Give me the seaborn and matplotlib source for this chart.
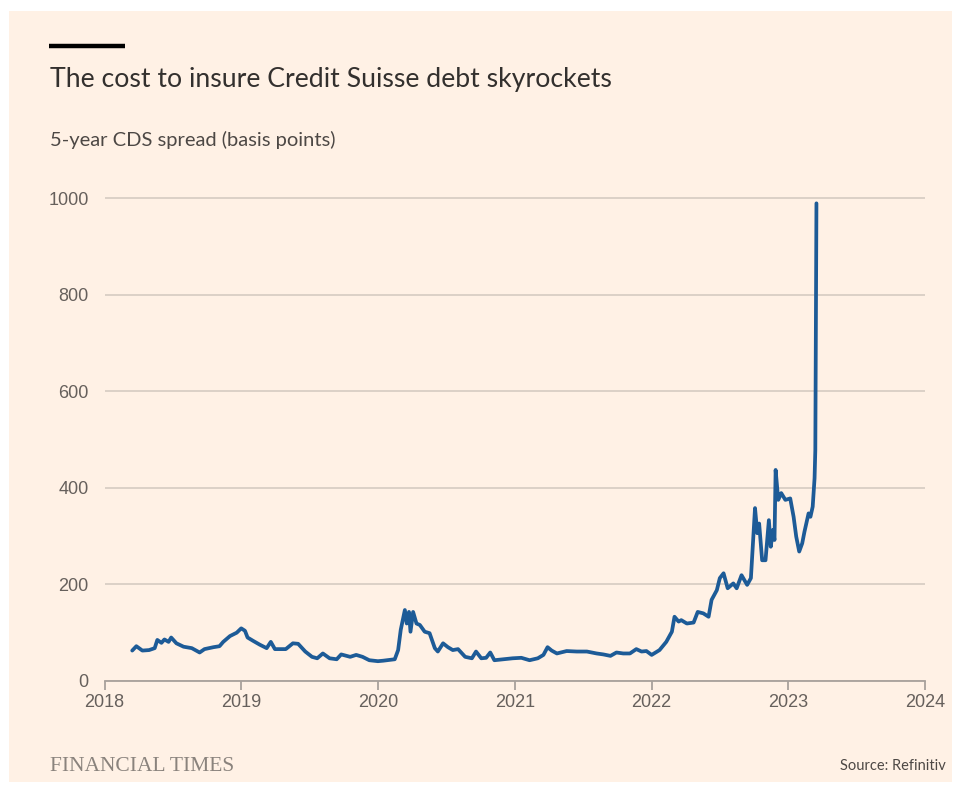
import matplotlib
matplotlib.use("Agg")
import matplotlib.pyplot as plt
import matplotlib.patches as mpatches
import pandas as pd
import seaborn as sns

# ---- data ----
dates = [
    "2018-03-16", "2018-03-27", "2018-04-12", "2018-04-30", "2018-05-15", "2018-05-22",
    "2018-06-02", "2018-06-10", "2018-06-21", "2018-06-28", "2018-07-12", "2018-07-31",
    "2018-08-22", "2018-09-12", "2018-09-25", "2018-10-19", "2018-11-04", "2018-11-14",
    "2018-12-02", "2018-12-20", "2019-01-01", "2019-01-11", "2019-01-18", "2019-02-02",
    "2019-02-20", "2019-03-10", "2019-03-21", "2019-04-01", "2019-04-12", "2019-04-30",
    "2019-05-19", "2019-06-02", "2019-06-21", "2019-07-09", "2019-07-23", "2019-08-07",
    "2019-08-25", "2019-09-13", "2019-09-25", "2019-10-19", "2019-11-04", "2019-11-21",
    "2019-12-09", "2020-01-01", "2020-01-15", "2020-02-15", "2020-02-24", "2020-03-02",
    "2020-03-13", "2020-03-18", "2020-03-24", "2020-03-28", "2020-04-04", "2020-04-13",
    "2020-04-22", "2020-05-05", "2020-05-18", "2020-06-01", "2020-06-09", "2020-06-23",
    "2020-07-06", "2020-07-19", "2020-08-02", "2020-08-21", "2020-09-08", "2020-09-19",
    "2020-10-03", "2020-10-16", "2020-10-27", "2020-11-07", "2020-12-01", "2020-12-26",
    "2021-01-18", "2021-02-09", "2021-03-03", "2021-03-18", "2021-03-29", "2021-04-09",
    "2021-04-23", "2021-05-19", "2021-06-15", "2021-07-12", "2021-08-07", "2021-08-25",
    "2021-09-13", "2021-09-29", "2021-10-17", "2021-11-04", "2021-11-21", "2021-12-05",
    "2021-12-18", "2022-01-01", "2022-01-22", "2022-02-09", "2022-02-24", "2022-03-03",
    "2022-03-14", "2022-03-21", "2022-04-05", "2022-04-23", "2022-05-04", "2022-05-19",
    "2022-06-02", "2022-06-10", "2022-06-24", "2022-07-02", "2022-07-12", "2022-07-23",
    "2022-08-07", "2022-08-16", "2022-08-29", "2022-09-13", "2022-09-23", "2022-10-04",
    "2022-10-10", "2022-10-15", "2022-10-23", "2022-11-01", "2022-11-10", "2022-11-15",
    "2022-11-21", "2022-11-25", "2022-11-28", "2022-12-05", "2022-12-13", "2022-12-24",
    "2023-01-06", "2023-01-15", "2023-01-22", "2023-01-30", "2023-02-07", "2023-02-13",
    "2023-02-24", "2023-03-01", "2023-03-07", "2023-03-12", "2023-03-14", "2023-03-17",
]
cds_bp = [
    63, 72, 63, 64, 68, 85,
    79, 86, 81, 90, 78, 71,
    68, 59, 66, 70, 72, 81,
    93, 100, 109, 104, 90, 83,
    75, 68, 81, 66, 66, 66,
    78, 77, 61, 50, 47, 57,
    47, 45, 55, 50, 54, 50,
    43, 41, 42, 45, 64, 106,
    147, 119, 143, 102, 143, 119,
    116, 102, 99, 68, 61, 78,
    70, 64, 66, 50, 47, 61,
    47, 48, 59, 43, 45, 47,
    48, 43, 47, 54, 70, 63,
    57, 62, 61, 61, 57, 55,
    52, 59, 57, 57, 66, 61,
    62, 54, 64, 81, 102, 133,
    123, 126, 119, 121, 143, 140,
    133, 168, 188, 213, 223, 192,
    202, 192, 219, 199, 213, 358,
    306, 326, 250, 250, 333, 278,
    313, 292, 437, 375, 389, 375,
    378, 340, 299, 268, 285, 309,
    347, 340, 361, 420, 478, 989,
]
y_ticks = [0, 200, 400, 600, 800, 1000]
x_years = ["2018", "2019", "2020", "2021", "2022", "2023", "2024"]

title = "The cost to insure Credit Suisse debt skyrockets"
subtitle = "5-year CDS spread (basis points)"
source = "Source: Refinitiv"
brand = "FINANCIAL TIMES"

df = pd.DataFrame({"date": pd.to_datetime(dates), "cds": cds_bp})

# ---- style ----
BG = "#FFF1E5"
sns.set_style("white", {"axes.facecolor": BG})
plt.rcParams["font.family"] = ["Liberation Sans", "DejaVu Sans"]

fig = plt.figure(figsize=(9.58, 7.85), dpi=100)
fig.patch.set_facecolor("white")
bg_rect = mpatches.Rectangle((9 / 958, 3 / 785), (952 - 9) / 958, (774 - 3) / 785,
                             transform=fig.transFigure, facecolor=BG,
                             edgecolor="none", zorder=-10)
fig.add_artist(bg_rect)

ax = fig.add_axes([0.1091, 0.1325, 0.8565, 0.6183])
ax.set_facecolor(BG)
ax.set_zorder(1)

sns.lineplot(data=df, x="date", y="cds", ax=ax, color="#1d5b97", linewidth=2.7,
             solid_joinstyle="round", solid_capstyle="round")

ax.set_ylim(0, 1005)
ax.set_xlim(pd.Timestamp(x_years[0] + "-01-01"), pd.Timestamp(x_years[-1] + "-01-01"))
ax.set_yticks(y_ticks)
ax.set_yticklabels([str(v) for v in y_ticks])
ax.set_xticks([pd.Timestamp(y + "-01-01") for y in x_years])
ax.set_xticklabels(x_years)

ax.grid(axis="y", color="#d9cec4", linewidth=1.3)
ax.grid(axis="x", visible=False)
ax.set_axisbelow(True)
for s in ["left", "top", "right"]:
    ax.spines[s].set_visible(False)
ax.spines["bottom"].set_color("#a8a19b")
ax.spines["bottom"].set_linewidth(1.3)
ax.tick_params(axis="y", length=0, pad=11.5, labelsize=13, labelcolor="#66605c")
ax.tick_params(axis="x", bottom=True, length=6.5, width=1.3, color="#a8a19b", pad=3,
               labelsize=13, labelcolor="#66605c")
ax.set_xlabel("")
ax.set_ylabel("")

# ---- header / footer ----
fig.add_artist(plt.Line2D([49 / 958, 125 / 958], [1 - 45.5 / 785] * 2, color="black",
                          linewidth=3.2, transform=fig.transFigure, solid_capstyle="butt"))
fig.text(50 / 958, 1 - 87 / 785, title, fontsize=19.2, color="#33302e",
         family=["Lato", "DejaVu Sans"], va="baseline", ha="left")
fig.text(50 / 958, 1 - 146 / 785, subtitle, fontsize=14.5, color="#4d4845",
         family=["Lato", "DejaVu Sans"], va="baseline", ha="left")
fig.text(50 / 958, 1 - 771 / 785, brand, fontsize=15.5, color="#8a837d",
         family=["Liberation Serif", "DejaVu Serif"], va="baseline", ha="left")
fig.text(946 / 958, 1 - 770 / 785, source, fontsize=10.5, color="#4d4845",
         family=["Lato", "DejaVu Sans"], va="baseline", ha="right")

fig.savefig("out.png", dpi=100, facecolor=fig.get_facecolor())
